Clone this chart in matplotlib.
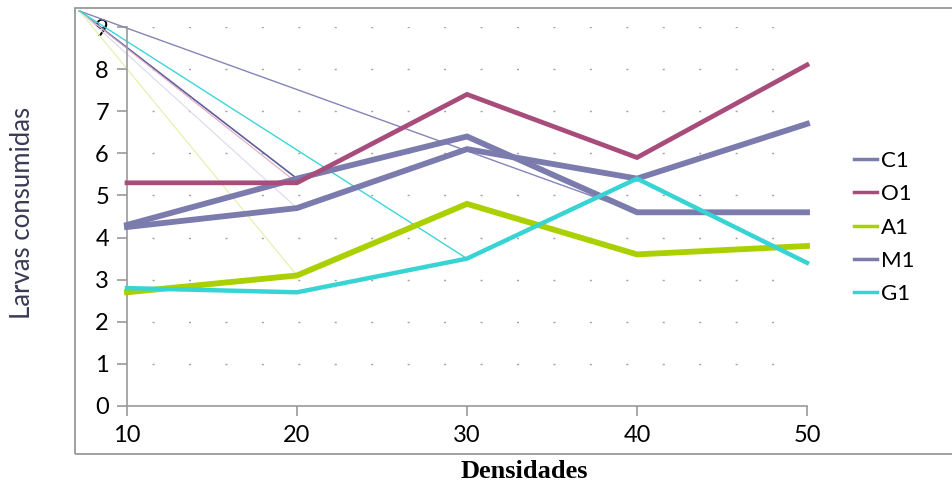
import matplotlib
matplotlib.use("Agg")
import matplotlib.pyplot as plt
from matplotlib.patches import Rectangle

# ---- data ----
densidades = [10, 20, 30, 40, 50]
C1 = [4.3, 5.4, 6.4, 4.6, 4.6]
O1 = [5.3, 5.3, 7.4, 5.9, 8.1]
A1 = [2.7, 3.1, 4.8, 3.6, 3.8]
M1 = [4.25, 4.7, 6.1, 5.4, 6.7]
G1 = [2.8, 2.7, 3.5, 5.4, 3.4]
series_names = ["C1", "O1", "A1", "M1", "G1"]
yticks = list(range(0, 10))

# faint stray segments visible in the original rendering (start point -> data point)
ghost_start = (7.2, 9.38)
ghost_ends_x = [40, 20, 20, 20, 20, 30]
ghost_ends_y = [4.6, 5.4, 5.3, 4.7, 3.1, 3.5]

# ---- style ----
col_purple = "#7B7BAD"
col_O = "#A84C7B"
col_A = "#AAD000"
col_G = "#38D3D3"
colors = {"C1": col_purple, "O1": col_O, "A1": col_A, "M1": col_purple, "G1": col_G}
widths = {"C1": 4.2, "O1": 3.4, "A1": 4.2, "M1": 4.2, "G1": 3.2}
ghost_styles = [("#8585B8", 1.0), ("#5E5E9C", 1.2), ("#E2A8BF", 0.8),
                ("#DADAEA", 0.8), ("#E6EEA8", 0.8), ("#3CD6D6", 1.0)]

fig = plt.figure(figsize=(9.52, 4.88), dpi=100)
W, H = 952, 488

# outer chart-area frame
fig.patches.append(Rectangle((75 / W, 1 - 454 / H), 1.0, (454 - 8) / H,
                             transform=fig.transFigure, fill=False,
                             edgecolor="#9A9A9A", linewidth=1.3))

ax = fig.add_axes([127 / W, 1 - 406 / H, (807 - 127) / W, (406 - 27) / H])
ax.set_xlim(10, 50)
ax.set_ylim(0, 9)

# dotted horizontal gridlines
for yv in yticks:
    ax.plot([10, 50], [yv, yv], color="#A0A0A0", linewidth=1.0,
            linestyle=(8.2, (1.44, 24.8)), zorder=1)

# ghost segments
for (c, lw), ex, ey in zip(ghost_styles, ghost_ends_x, ghost_ends_y):
    ax.plot([ghost_start[0], ex], [ghost_start[1], ey], color=c, linewidth=lw,
            clip_on=False, zorder=2)

data = {"C1": C1, "O1": O1, "A1": A1, "M1": M1, "G1": G1}
handles = []
for name in series_names:
    ln, = ax.plot(densidades, data[name], color=colors[name], linewidth=widths[name],
                  solid_joinstyle="miter", clip_on=False, zorder=3, label=name)
    handles.append(ln)

for s in ["top", "right"]:
    ax.spines[s].set_visible(False)
for s in ["left", "bottom"]:
    ax.spines[s].set_color("#9A9A9A")
    ax.spines[s].set_linewidth(1.2)

tick_font = dict(family=["Lato", "DejaVu Sans"], size=17)
ax.set_xticks(densidades)
ax.set_xticklabels([str(d) for d in densidades], **tick_font)
ax.set_yticks(yticks)
ax.set_yticklabels([str(y) for y in yticks], **tick_font)
ax.tick_params(axis="y", colors="#9A9A9A", labelcolor="black", length=7, width=1.2, pad=6)
ax.tick_params(axis="x", colors="#9A9A9A", labelcolor="black", length=7, width=1.2, pad=7)

fig.text(23 / W, 1 - 213 / H, "Larvas consumidas", rotation=90, ha="center", va="center",
         family=["Lato", "DejaVu Sans"], size=18.5, color="#3A3A55")
fig.text(524 / W, 1 - 472 / H, "Densidades", ha="center", va="center",
         family=["Liberation Serif"], weight="bold", size=19, color="black")

leg = fig.legend(handles=handles, labels=series_names, loc="upper left",
                 bbox_to_anchor=(845 / W, 1 - 142 / H), frameon=False,
                 prop=dict(family="Lato", size=16), handlelength=1.05,
                 handletextpad=0.15, labelspacing=0.6, borderaxespad=0)
for lh in leg.get_lines():
    lh.set_linewidth(2.5)

fig.savefig("out.png", dpi=100)
